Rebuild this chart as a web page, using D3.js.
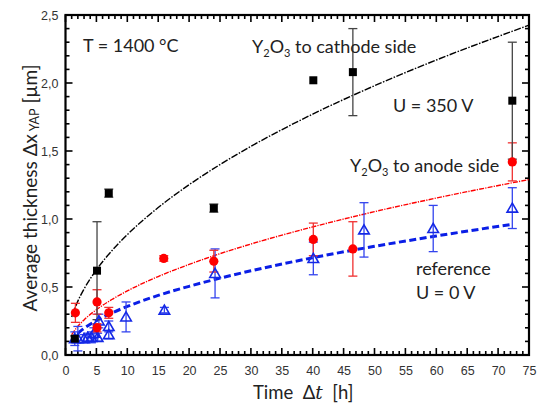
<!DOCTYPE html>
<html><head><meta charset="utf-8">
<script src="https://cdn.jsdelivr.net/npm/d3@7"></script>
<style>body{margin:0;background:#fff}svg{display:block}text{white-space:pre}</style>
</head><body><svg id="c" width="539" height="404"></svg>
<script>
// ---- data ----
const xTicks = [0,5,10,15,20,25,30,35,40,45,50,55,60,65,70,75];
const yTicks = [0,0.5,1.0,1.5,2.0,2.5];

// Y2O3 to cathode side, U = 350 V (black squares)
const cathT   = [1.5, 5.1, 7.0, 24.0, 40.1, 46.5, 72.3];
const cathY   = [0.12, 0.62, 1.19, 1.08, 2.02, 2.08, 1.87];
const cathErr = [0.02, 0.36, 0.03, 0.03, 0.0, 0.32, 0.43];

// Y2O3 to anode side (red circles)
const anodT   = [1.6, 5.1, 5.1, 7.0, 15.9, 24.0, 40.1, 46.5, 72.3];
const anodY   = [0.31, 0.39, 0.20, 0.31, 0.71, 0.69, 0.85, 0.78, 1.42];
const anodErr = [0.07, 0.09, 0.03, 0.04, 0.02, 0.08, 0.12, 0.20, 0.14];

// reference U = 0 V (blue open triangles)
const refT   = [1.5, 2.0, 3.0, 3.6, 4.2, 4.6, 5.2, 5.4, 7.0, 7.0, 9.8, 16.0, 24.2, 40.1, 48.3, 59.5, 72.3];
const refY   = [0.12, 0.12, 0.12, 0.13, 0.13, 0.16, 0.13, 0.25, 0.21, 0.15, 0.28, 0.33, 0.60, 0.71, 0.92, 0.93, 1.08];
const refErr = [0.05, 0.09, 0.03, 0.03, 0.04, 0.04, 0.03, 0.05, 0.04, 0.03, 0.11, 0.02, 0.18, 0.12, 0.20, 0.17, 0.15];

// fitted curves
const fitCathT = [1, 2, 3, 5, 7.5, 10, 15, 20, 25, 30, 40, 50, 60, 75];
const fitCathY = [0.28, 0.396, 0.485, 0.626, 0.767, 0.885, 1.084, 1.252, 1.40, 1.534, 1.771, 1.98, 2.169, 2.425];
const fitAnodT = [1, 2, 3, 5, 7.5, 10, 15, 20, 25, 30, 40, 50, 60, 75];
const fitAnodY = [0.15, 0.211, 0.258, 0.333, 0.408, 0.471, 0.577, 0.666, 0.745, 0.816, 0.942, 1.054, 1.154, 1.29];
const fitRefT  = [2, 3, 5, 7.5, 10, 15, 20, 25, 30, 40, 50, 60, 72];
const fitRefY  = [0.16, 0.196, 0.253, 0.309, 0.357, 0.438, 0.505, 0.565, 0.619, 0.715, 0.799, 0.875, 0.959];

// ---- drawing ----
const svg = d3.select('#c');
const L = 65.5, R = 529, T = 15, B = 355;
const x = d3.scaleLinear().domain([0,75]).range([L,R]);
const y = d3.scaleLinear().domain([0,2.5]).range([B,T]);
const tickFont = '"Liberation Sans", Arial, sans-serif';
const txtFont = 'Lato, "Open Sans", sans-serif';
const fmt = v => d3.format('.1f')(v).replace('.', ',');

// minor & major ticks (inward) on all four sides
const g = svg.append('g');
const xMinor = d3.range(0, 76, 1);
const yMinor = d3.range(0, 2.51, 0.1);
xMinor.forEach(v => {
  const major = Math.abs(v % 5) < 1e-6;
  const len = major ? 7 : 4;
  g.append('line').attr('x1', x(v)).attr('x2', x(v)).attr('y1', B).attr('y2', B - len)
    .attr('stroke', '#000').attr('stroke-width', 1.6);
  g.append('line').attr('x1', x(v)).attr('x2', x(v)).attr('y1', T).attr('y2', T + len)
    .attr('stroke', '#000').attr('stroke-width', 1.6);
});
yMinor.forEach(v => {
  const r = Math.round(v * 10) % 5;
  const len = r === 0 ? 7 : 4;
  g.append('line').attr('x1', L).attr('x2', L + len).attr('y1', y(v)).attr('y2', y(v))
    .attr('stroke', '#000').attr('stroke-width', 1.6);
  g.append('line').attr('x1', R).attr('x2', R - len).attr('y1', y(v)).attr('y2', y(v))
    .attr('stroke', '#000').attr('stroke-width', 1.6);
});
// tick labels using D3 axes (no tick lines)
const xAxis = svg.append('g').attr('transform', `translate(0,${B})`)
  .call(d3.axisBottom(x).tickValues(xTicks).tickSize(0).tickPadding(11).tickFormat(d3.format('d')));
const yAxis = svg.append('g').attr('transform', `translate(${L},0)`)
  .call(d3.axisLeft(y).tickValues(yTicks).tickSize(0).tickPadding(7).tickFormat(fmt));
[xAxis, yAxis].forEach(a => {
  a.select('.domain').remove();
  a.selectAll('text').attr('font-family', tickFont).attr('font-size', 12.5).attr('fill', '#333');
});

// frame
svg.append('rect').attr('x', L).attr('y', T).attr('width', R - L).attr('height', B - T)
  .attr('fill', 'none').attr('stroke', '#000').attr('stroke-width', 2.2);

// fit curves
const line = d3.line().x(d => x(d[0])).y(d => y(d[1])).curve(d3.curveMonotoneX);
svg.append('path').datum(d3.zip(fitCathT, fitCathY)).attr('d', line)
  .attr('fill', 'none').attr('stroke', '#000').attr('stroke-width', 1.4).attr('stroke-dasharray', '7,1.5,1.5,1.5');
svg.append('path').datum(d3.zip(fitAnodT, fitAnodY)).attr('d', line)
  .attr('fill', 'none').attr('stroke', '#f00').attr('stroke-width', 1.4).attr('stroke-dasharray', '5,1.2,1.2,1.2');
svg.append('path').datum(d3.zip(fitRefT, fitRefY)).attr('d', line)
  .attr('fill', 'none').attr('stroke', '#0a1ee6').attr('stroke-width', 3).attr('stroke-dasharray', '7,3.5');

// error bars
function errBars(ts, ys, es, color) {
  const eg = svg.append('g');
  ts.forEach((t, i) => {
    if (es[i] <= 0) return;
    const cx = x(t), y1 = y(ys[i] + es[i]), y0 = y(ys[i] - es[i]);
    eg.append('line').attr('x1', cx).attr('x2', cx).attr('y1', y1).attr('y2', y0).attr('stroke', color).attr('stroke-width', 1.3);
    [y1, y0].forEach(yy => eg.append('line').attr('x1', cx - 4.5).attr('x2', cx + 4.5).attr('y1', yy).attr('y2', yy)
      .attr('stroke', color).attr('stroke-width', 1.3));
  });
}
errBars(refT, refY, refErr, '#3344ee');
errBars(anodT, anodY, anodErr, '#f03030');
errBars(cathT, cathY, cathErr, '#444');

// markers
const tri = d3.symbol().type(d3.symbolTriangle).size(48);
svg.append('g').selectAll('path').data(d3.zip(refT, refY)).join('path')
  .attr('d', tri).attr('transform', d => `translate(${x(d[0])},${y(d[1]) + 1})`)
  .attr('fill', 'none').attr('stroke', '#1428e6').attr('stroke-width', 1.6);
svg.append('g').selectAll('circle').data(d3.zip(anodT, anodY)).join('circle')
  .attr('cx', d => x(d[0])).attr('cy', d => y(d[1])).attr('r', 4.6).attr('fill', '#f00');
svg.append('g').selectAll('rect').data(d3.zip(cathT, cathY)).join('rect')
  .attr('x', d => x(d[0]) - 4).attr('y', d => y(d[1]) - 4).attr('width', 8).attr('height', 8).attr('fill', '#000');

// annotations
const aSize = 18;
function txt(xp, yp, size) {
  return svg.append('text').attr('x', xp).attr('y', yp).attr('font-family', txtFont)
    .attr('font-size', size).attr('fill', '#222');
}
txt(83, 52, aSize).text('T = 1400 °C');
function yoxLabel(xp, yp, rest) {
  const t = txt(xp, yp, aSize);
  t.append('tspan').text('Y');
  t.append('tspan').attr('font-size', 11).attr('dy', 4).text('2');
  t.append('tspan').attr('dy', -4).text('O');
  t.append('tspan').attr('font-size', 11).attr('dy', 4).text('3');
  t.append('tspan').attr('dy', -4).text(rest);
}
yoxLabel(252, 53, ' to cathode side');
txt(393, 112, aSize).text('U = 350 V');
yoxLabel(350, 172, ' to anode side');
txt(416, 275, aSize).text('reference');
txt(416, 299, aSize).text('U = 0 V');

// axis titles
const xt = txt(253, 399, 18.5);
xt.append('tspan').text('Time  Δ');
xt.append('tspan').attr('font-style', 'italic').attr('font-family', '"DejaVu Serif", serif').text('t');
xt.append('tspan').text('  [h]');

const yt = svg.append('text').attr('transform', 'translate(37,188) rotate(-90)')
  .attr('text-anchor', 'middle').attr('font-family', txtFont).attr('font-size', 19).attr('fill', '#222');
yt.append('tspan').text('Average thickness Δx');
yt.append('tspan').attr('font-size', 12.5).attr('dy', 2).text(' YAP');
yt.append('tspan').attr('dy', -2).text(' [µm]');
</script></body></html>
